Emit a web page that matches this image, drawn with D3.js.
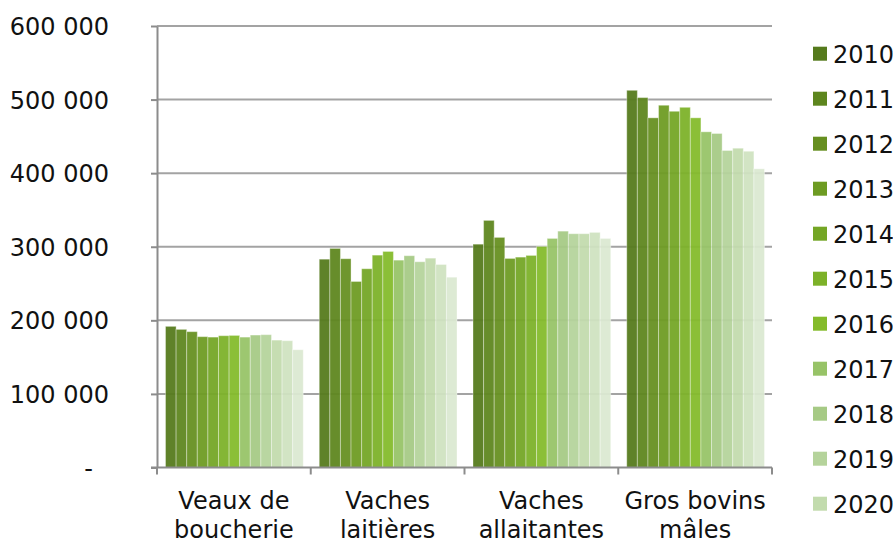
<!DOCTYPE html>
<html>
<head>
<meta charset="utf-8">
<script src="https://cdn.jsdelivr.net/npm/d3@7"></script>
<style>
  html, body { margin: 0; padding: 0; background: #fff; }
  svg { display: block; font-family: "DejaVu Sans", Verdana, sans-serif; }
</style>
</head>
<body>
<svg id="chart" width="893" height="538"></svg>
<script>
// --- données ---
const categories = [
    ["Veaux de", "boucherie"],
    ["Vaches", "laitières"],
    ["Vaches", "allaitantes"],
    ["Gros bovins", "mâles"],
];
const years = ["2010", "2011", "2012", "2013", "2014", "2015", "2016",
               "2017", "2018", "2019", "2020", "2021", "2022"];

// une liste de valeurs par catégorie, dans l'ordre des années
const veauxBoucherie = [191800, 187700, 184600, 177800, 177200, 179100, 179500,
                        177200, 180000, 180500, 173100, 172300, 160000];
const vachesLaitieres = [283100, 297700, 283700, 252800, 270100, 288600, 293600,
                         281800, 287800, 279600, 284500, 275900, 258600];
const vachesAllaitantes = [303500, 335800, 312700, 284100, 285900, 288200, 300400,
                           311300, 321200, 317700, 317700, 319500, 311300];
const grosBovinsMales = [512600, 502700, 475200, 492300, 484100, 489500, 475200,
                         456200, 453900, 430800, 433900, 429800, 405900];

const yTicks = [0, 100000, 200000, 300000, 400000, 500000, 600000];

const colors = ["#557a1c", "#5d861e", "#668f20", "#6d9b22", "#74a625", "#7cb128",
                "#84bb2a", "#97c367", "#a6ca85", "#b5d39b", "#c2dbad", "#cfe2c0", "#dbe9d1"];

const seriesByCategory = [veauxBoucherie, vachesLaitieres, vachesAllaitantes, grosBovinsMales];

// --- mise en page ---
const PLOT = { left: 157, right: 772, top: 26, bottom: 467.5 };
const FONT_SIZE = 24;
const GRID_COLOR = "#a3a3a3";
const AXIS_COLOR = "#8c8c8c";

const svg = d3.select("#chart");

const x0 = d3.scaleBand()
    .domain(d3.range(categories.length))
    .range([PLOT.left, PLOT.right])
    .paddingInner(0)
    .paddingOuter(0);

const x1 = d3.scaleBand()
    .domain(years)
    .range([8.5, x0.bandwidth() - 7.5])
    .padding(0);

const y = d3.scaleLinear()
    .domain([0, 600000])
    .range([PLOT.bottom, PLOT.top]);

// grille horizontale (sous les barres)
svg.append("g")
    .selectAll("line")
    .data(yTicks.filter((d) => d > 0))
    .enter()
    .append("line")
    .attr("x1", PLOT.left)
    .attr("x2", PLOT.right)
    .attr("y1", (d) => y(d))
    .attr("y2", (d) => y(d))
    .attr("stroke", GRID_COLOR)
    .attr("stroke-width", 2);

// barres
const rows = categories.map((c, i) =>
    years.map((yr, j) => ({ cat: i, year: yr, idx: j, value: seriesByCategory[i][j] }))
);

svg.append("g")
    .selectAll("g")
    .data(rows)
    .enter()
    .append("g")
    .attr("transform", (d, i) => `translate(${x0(i)},0)`)
    .selectAll("rect")
    .data((d) => d)
    .enter()
    .append("rect")
    .attr("x", (d) => x1(d.year))
    .attr("y", (d) => y(d.value))
    .attr("width", x1.bandwidth())
    .attr("height", (d) => y(0) - y(d.value))
    .attr("fill", (d) => colors[d.idx])
    .attr("fill-opacity", 0.94)
    .attr("stroke", "rgba(255,255,255,0.35)")
    .attr("stroke-width", 1);

// axe des ordonnées
const yAxis = svg.append("g")
    .attr("transform", `translate(${PLOT.left},0)`)
    .call(
        d3.axisLeft(y)
            .tickValues(yTicks)
            .tickSize(6)
            .tickSizeOuter(0)
            .tickPadding(42)
            .tickFormat((d) => (d === 0 ? "-" : d3.format(",")(d).replace(/,/g, " ")))
    );
yAxis.select(".domain").attr("stroke", AXIS_COLOR).attr("stroke-width", 2);
yAxis.selectAll(".tick line").attr("stroke", AXIS_COLOR).attr("stroke-width", 2);
yAxis.selectAll(".tick text")
    .attr("fill", "#111")
    .style("font-size", FONT_SIZE + "px")
    .style("font-family", "'DejaVu Sans', Verdana, sans-serif")
    .attr("dy", "0.36em")
    .filter((d) => d === 0)
    .attr("dx", -16);

// axe des abscisses
const xAxisG = svg.append("g");
xAxisG.append("line")
    .attr("x1", PLOT.left - 6)
    .attr("x2", PLOT.right)
    .attr("y1", y(0))
    .attr("y2", y(0))
    .attr("stroke", AXIS_COLOR)
    .attr("stroke-width", 2);

xAxisG.selectAll(".xtick")
    .data(d3.range(categories.length + 1))
    .enter()
    .append("line")
    .attr("class", "xtick")
    .attr("x1", (d) => (d < categories.length ? x0(d) : PLOT.right))
    .attr("x2", (d) => (d < categories.length ? x0(d) : PLOT.right))
    .attr("y1", y(0))
    .attr("y2", y(0) + 7)
    .attr("stroke", AXIS_COLOR)
    .attr("stroke-width", 2);

xAxisG.selectAll(".xlabel")
    .data(categories)
    .enter()
    .append("text")
    .attr("class", "xlabel")
    .attr("text-anchor", "middle")
    .attr("fill", "#111")
    .style("font-size", FONT_SIZE + "px")
    .attr("transform", (d, i) => `translate(${x0(i) + x0.bandwidth() / 2},509)`)
    .selectAll("tspan")
    .data((d) => d)
    .enter()
    .append("tspan")
    .attr("x", 0)
    .attr("y", (d, i) => i * 28.5)
    .text((d) => d);

// légende
const legend = svg.append("g")
    .selectAll("g")
    .data(years)
    .enter()
    .append("g")
    .attr("transform", (d, i) => `translate(813,${46.7 + i * 45})`);

legend.append("rect")
    .attr("width", 14)
    .attr("height", 14)
    .attr("fill", (d, i) => colors[i]);

legend.append("text")
    .attr("x", 20)
    .attr("y", 16.5)
    .attr("fill", "#111")
    .style("font-size", FONT_SIZE + "px")
    .text((d) => d);
</script>
</body>
</html>
